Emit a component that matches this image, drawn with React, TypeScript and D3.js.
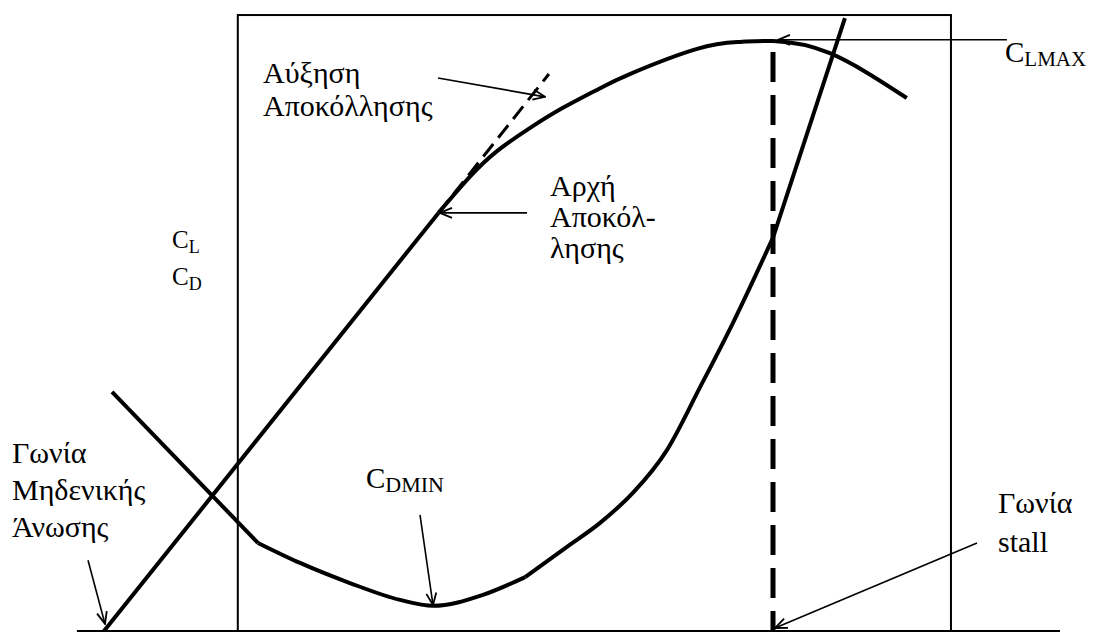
import React from "react";
import * as d3 from "d3";

// ---- data (angle of attack in degrees, coefficient values) ----
const liftLinearAlpha = [-4, 6];
const liftLinearCL = [0, 1.063];

const liftStallAlpha = [6, 6.94, 7.75, 8.74, 9.72, 10.83, 11.72, 13.73, 15.01, 16, 17.7, 20];
const liftStallCL = [1.063, 1.155, 1.22, 1.279, 1.33, 1.38, 1.416, 1.48, 1.4975, 1.5, 1.469, 1.355];

const liftExtAlpha = [6, 9.3];
const liftExtCL = [1.063, 1.416];

const dragLeftAlpha = [-3.76, 0.6];
const dragLeftCD = [0.608, 0.224];

const dragBucketAlpha = [0.6, 1.86, 3.35, 4.85, 5.84, 7.33, 8.59];
const dragBucketCD = [0.224, 0.173, 0.122, 0.079, 0.064, 0.092, 0.137];

const dragRiseAlpha = [8.59, 9.84, 10.83, 11.81, 12.83, 13.82, 14.8, 16];
const dragRiseCD = [0.137, 0.214, 0.275, 0.351, 0.46, 0.62, 0.783, 1.0];

const dragTopAlpha = [16, 18.15];
const dragTopCD = [1.0, 1.558];

const stallAlpha = 16;
const clMax = 1.5;

const frameAlpha = [0, 21.32];
const frameTop = 1.566;
const axisAlpha = [-4.81, 24.58];

// arrows: [fromAlpha, fromC, toAlpha, toC]
const arrowSeparationGrowth = [5.985, 1.406, 9.184, 1.358];
const arrowSeparationStart = [8.646, 1.063, 6.045, 1.063];
const arrowClMax = [22.995, 1.503, 16.149, 1.503];
const arrowCdMin = [5.447, 0.295, 5.836, 0.066];
const arrowStall = [22.099, 0.224, 16.06, 0.0076];
const arrowZeroLift = [-4.478, 0.18, -3.97, 0.018];

const zip = (a: number[], b: number[]) => a.map((v, i) => [v, b[i]] as [number, number]);

export default function App() {
  const W = 1100;
  const H = 633;
  const x = d3.scaleLinear().domain([-4, 16]).range([104, 773]);
  const y = d3.scaleLinear().domain([0, 1.5]).range([631, 41]);

  const lin = d3.line<[number, number]>().x((d) => x(d[0])).y((d) => y(d[1]));
  const smooth = d3
    .line<[number, number]>()
    .x((d) => x(d[0]))
    .y((d) => y(d[1]))
    .curve(d3.curveMonotoneX);
  const natural = d3
    .line<[number, number]>()
    .x((d) => x(d[0]))
    .y((d) => y(d[1]))
    .curve(d3.curveNatural);

  const font = "'Liberation Serif', 'Times New Roman', serif";
  const greek = 30;

  const arrow = (a: number[], key: string) => (
    <line
      key={key}
      x1={x(a[0])}
      y1={y(a[1])}
      x2={x(a[2])}
      y2={y(a[3])}
      stroke="#000"
      strokeWidth={1.6}
      markerEnd="url(#ah)"
    />
  );

  return (
    <svg
      width={W}
      height={H}
      style={{ position: "absolute", left: 0, top: 0, background: "#fff" }}
    >
      <defs>
        <marker
          id="ah"
          viewBox="0 0 14 12"
          refX={13}
          refY={6}
          markerWidth={14}
          markerHeight={12}
          markerUnits="userSpaceOnUse"
          orient="auto"
        >
          <path d="M1,1 L13,6 L1,11" fill="none" stroke="#000" strokeWidth={1.8} />
        </marker>
      </defs>

      {/* frame */}
      <rect
        x={x(frameAlpha[0])}
        y={y(frameTop)}
        width={x(frameAlpha[1]) - x(frameAlpha[0])}
        height={y(0) - y(frameTop)}
        fill="none"
        stroke="#000"
        strokeWidth={2}
      />
      <line x1={x(axisAlpha[0])} x2={x(axisAlpha[1])} y1={y(0)} y2={y(0)} stroke="#000" strokeWidth={2.2} />

      {/* stall dashed vertical */}
      <line
        x1={x(stallAlpha)}
        x2={x(stallAlpha)}
        y1={y(clMax) + 11}
        y2={y(0)}
        stroke="#000"
        strokeWidth={5}
        strokeDasharray="30 13"
      />

      {/* lift curve */}
      <path d={lin(zip(liftLinearAlpha, liftLinearCL)) || ""} fill="none" stroke="#000" strokeWidth={4} />
      <path d={natural(zip(liftStallAlpha, liftStallCL)) || ""} fill="none" stroke="#000" strokeWidth={4} />
      <path
        d={lin(zip(liftExtAlpha, liftExtCL)) || ""}
        fill="none"
        stroke="#000"
        strokeWidth={3}
        strokeDasharray="16 8"
      />

      {/* drag curve */}
      <path d={lin(zip(dragLeftAlpha, dragLeftCD)) || ""} fill="none" stroke="#000" strokeWidth={4} />
      <path d={smooth(zip(dragBucketAlpha, dragBucketCD)) || ""} fill="none" stroke="#000" strokeWidth={4} />
      <path d={smooth(zip(dragRiseAlpha, dragRiseCD)) || ""} fill="none" stroke="#000" strokeWidth={4} />
      <path d={lin(zip(dragTopAlpha, dragTopCD)) || ""} fill="none" stroke="#000" strokeWidth={4} />

      {/* arrows */}
      {arrow(arrowSeparationGrowth, "a1")}
      {arrow(arrowSeparationStart, "a2")}
      {arrow(arrowClMax, "a3")}
      {arrow(arrowCdMin, "a4")}
      {arrow(arrowStall, "a5")}
      {arrow(arrowZeroLift, "a6")}

      {/* labels */}
      <g fontFamily={font} fill="#000">
        <text x={263} y={83} fontSize={greek}>Αύξηση</text>
        <text x={263} y={116} fontSize={greek}>Αποκόλλησης</text>

        <text x={550} y={196} fontSize={greek}>Αρχή</text>
        <text x={550} y={227} fontSize={greek}>Αποκόλ-</text>
        <text x={550} y={258} fontSize={greek}>λησης</text>

        <text x={172} y={248} fontSize={25}>
          C<tspan fontSize={18} dy={5}>L</tspan>
        </text>
        <text x={172} y={285} fontSize={25}>
          C<tspan fontSize={18} dy={5}>D</tspan>
        </text>

        <text x={1005} y={62} fontSize={29}>
          C<tspan fontSize={21} dy={4}>LMAX</tspan>
        </text>

        <text x={366} y={488} fontSize={29}>
          C<tspan fontSize={22} dy={4}>DMIN</tspan>
        </text>

        <text x={12} y={463} fontSize={greek}>Γωνία</text>
        <text x={12} y={500} fontSize={greek}>Μηδενικής</text>
        <text x={12} y={537} fontSize={greek}>Άνωσης</text>

        <text x={998} y={513} fontSize={greek}>Γωνία</text>
        <text x={998} y={552} fontSize={greek}>stall</text>
      </g>
    </svg>
  );
}
